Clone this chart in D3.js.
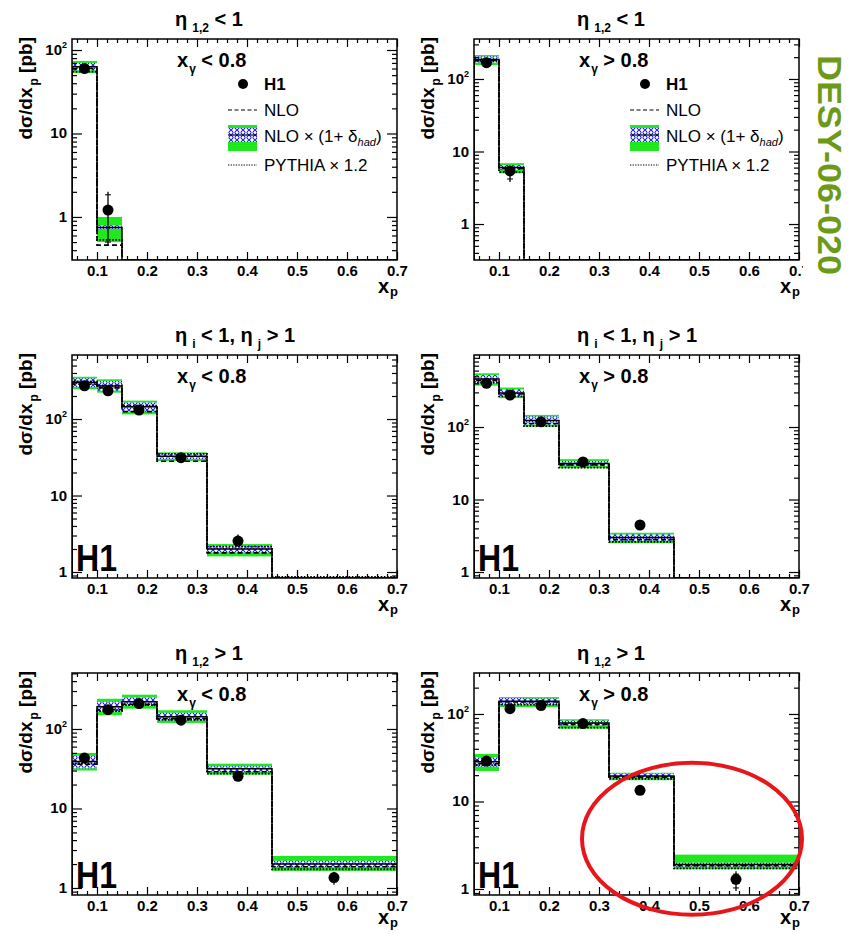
<!DOCTYPE html>
<html><head><meta charset="utf-8">
<script src="https://cdn.jsdelivr.net/npm/d3@7"></script>
<style>
body{margin:0;background:#fff}
svg{display:block}
text{font-family:"Liberation Sans",Arial,Helvetica,sans-serif}
</style>
</head><body><svg id="c" width="858" height="934"></svg>
<script>
// ---------------- DATA ----------------
const binEdges = [0.05, 0.10, 0.15, 0.22, 0.32, 0.45, 0.70];
const dataX    = [0.075, 0.122, 0.184, 0.268, 0.382, 0.574];
const xTicks   = [0.1, 0.2, 0.3, 0.4, 0.5, 0.6, 0.7];
const yDecades = [1, 10, 100];
const yRanges  = [[0.305,135.5],[0.319,356],[0.835,687],[0.827,984],[0.816,506],[0.854,294]];

const panelTitles = [
  [{t:"η"},{t:"1,2",sub:1},{t:" < 1"}],
  [{t:"η"},{t:"1,2",sub:1},{t:" < 1"}],
  [{t:"η"},{t:"i",sub:1},{t:" < 1,  η"},{t:"j",sub:1},{t:" > 1"}],
  [{t:"η"},{t:"i",sub:1},{t:" < 1,  η"},{t:"j",sub:1},{t:" > 1"}],
  [{t:"η"},{t:"1,2",sub:1},{t:" > 1"}],
  [{t:"η"},{t:"1,2",sub:1},{t:" > 1"}]
];
const xgCuts = ["< 0.8", "> 0.8", "< 0.8", "> 0.8", "< 0.8", "> 0.8"];
const showLegend = [true, true, false, false, false, false];
const showH1Logo = [false, false, true, true, true, true];
const legendLabels = ["H1", "NLO", "NLO × (1+ δ", "PYTHIA × 1.2"];

// H1 data points and total errors
const h1Values = [
  [60, 1.21, null, null, null, null],
  [168, 5.4, null, null, null, null],
  [272, 234, 131, 31.2, 2.54, null],
  [400, 276, 118, 33, 4.45, null],
  [43, 175, 209, 129, 25.4, 1.35],
  [29, 115, 125, 77.6, 13.4, 1.29]
];
const h1ErrLo = [
  [55, 0.46, null, null, null, null],
  [155, 3.8, null, null, null, null],
  [255, 220, 122, 29.5, 2.15, null],
  [375, 260, 110, 31, 3.9, null],
  [39, 163, 196, 120, 23.5, 1.1],
  [26.5, 106, 116, 72, 12.3, 0.95]
];
const h1ErrHi = [
  [66, 2.0, null, null, null, null],
  [182, 6.4, null, null, null, null],
  [290, 250, 141, 33, 3.1, null],
  [425, 292, 126, 35, 5.0, null],
  [47, 187, 222, 138, 27.5, 1.6],
  [31.5, 124, 134, 83, 14.6, 1.6]
];
// NLO x (1+delta_had): total uncertainty band (green)
const bandLo = [
  [53, 0.5, null, null, null, null],
  [156, 5.0, null, null, null, null],
  [245, 221, 115, 28.3, 1.6, null],
  [372, 250, 101, 27, 2.49, null],
  [30, 149, 180, 119, 26.6, 1.64],
  [22.3, 120, 120, 68, 17.5, 1.68]
];
const bandHi = [
  [74, 1.0, null, null, null, null],
  [214, 6.9, null, null, null, null],
  [357, 331, 174, 36.7, 2.32, null],
  [550, 350, 147, 36, 3.48, null],
  [50, 240, 270, 172, 36.6, 2.53],
  [35, 156, 156, 87, 21.3, 2.47]
];
// hadronisation uncertainty band (hatched)
const hatchLo = [
  [57, 0.72, null, null, null, null],
  [168, 5.6, null, null, null, null],
  [262, 235, 125, 30, 1.8, null],
  [400, 265, 108, 29, 2.7, null],
  [32, 165, 195, 128, 29, 1.82],
  [25, 128, 128, 74, 18.5, 1.8]
];
const hatchHi = [
  [70, 0.79, null, null, null, null],
  [205, 6.5, null, null, null, null],
  [340, 315, 165, 35.5, 2.2, null],
  [520, 330, 140, 34, 3.3, null],
  [46, 220, 250, 160, 34, 2.2],
  [32, 152, 150, 84, 20.8, 2.0]
];
const nloHad = [
  [63, 0.75, null, null, null, null],
  [185, 6.0, null, null, null, null],
  [300, 270, 145, 32.5, 2.0, null],
  [460, 295, 123, 31.5, 3.0, null],
  [39, 190, 220, 142, 31.5, 2.0],
  [28.5, 140, 140, 79, 19.6, 1.9]
];
const nlo = [
  [60, 0.46, null, null, null, null],
  [180, 5.8, null, null, null, null],
  [285, 255, 125, 28, 1.78, null],
  [440, 285, 112, 30, 2.8, null],
  [36, 175, 205, 135, 29, 1.85],
  [27, 137, 137, 76, 19, 1.85]
];
const pythia = [
  [55, 0.53, null, null, null, null],
  [178, 5.2, null, null, null, null],
  [310, 275, 150, 35, 2.15, 0.86],
  [410, 265, 103, 27.5, 2.6, null],
  [37, 168, 200, 130, 27.5, 1.72],
  [26, 128, 128, 70, 18.2, 1.72]
];

// ---------------- DRAW ----------------
const GREEN = "#1fe81f";
const svg = d3.select("#c");
const defs = svg.append("defs");
const pat = defs.append("pattern").attr("id","hatch").attr("patternUnits","userSpaceOnUse")
  .attr("width",6).attr("height",5);
pat.append("rect").attr("width",6).attr("height",5).attr("fill","#fff");
pat.append("circle").attr("cx",3).attr("cy",2.5).attr("r",2).attr("fill","none")
  .attr("stroke","#0000ff").attr("stroke-width",1);

const cols = [[72,397],[474,799]];
const rows = [[39,260],[355,578],[673,895]];
const xTitleOffset = [33, 33, 29];
const bins = d3.range(binEdges.length-1);

function rich(sel, segs, size, subSize, subShift, subDx){
  const t = sel.attr("font-size",size).attr("font-weight","bold");
  let shifted = 0;
  segs.forEach(s=>{
    const ts = t.append("tspan").text(s.t);
    if(s.sub){ ts.attr("font-size",subSize).attr("dy",subShift - shifted).attr("dx",subDx); shifted = subShift; }
    else { if(shifted){ ts.attr("dy",-shifted); } shifted = 0; }
  });
  return t;
}

function stepPath(vals, x, y, bottom){
  const pts = [[x(binEdges[0]), bottom]];
  bins.forEach(i=>{
    const yy = vals[i]==null ? bottom : y(vals[i]);
    pts.push([x(binEdges[i]), yy]); pts.push([x(binEdges[i+1]), yy]);
  });
  pts.push([x(binEdges[binEdges.length-1]), bottom]);
  return d3.line()(pts);
}

for(let p=0;p<6;p++){
  const col = p%2, row = Math.floor(p/2);
  const [L,R] = cols[col], [T,B] = rows[row];
  const x = d3.scaleLinear().domain([0.05,0.7]).range([L,R]);
  const y = d3.scaleLog().domain(yRanges[p]).range([B,T]);
  const g = svg.append("g");
  defs.append("clipPath").attr("id","clip"+p).append("rect")
    .attr("x",L).attr("y",T).attr("width",R-L).attr("height",B-T);
  const pg = g.append("g").attr("clip-path",`url(#clip${p})`);

  const valid = bins.filter(i=>bandLo[p][i]!=null);
  pg.selectAll(".band").data(valid).join("rect")
    .attr("x",i=>x(binEdges[i])).attr("width",i=>x(binEdges[i+1])-x(binEdges[i]))
    .attr("y",i=>y(bandHi[p][i])).attr("height",i=>y(bandLo[p][i])-y(bandHi[p][i]))
    .attr("fill",GREEN);
  pg.selectAll(".hatchb").data(valid).join("rect")
    .attr("x",i=>x(binEdges[i])).attr("width",i=>x(binEdges[i+1])-x(binEdges[i]))
    .attr("y",i=>y(hatchHi[p][i])).attr("height",i=>y(hatchLo[p][i])-y(hatchHi[p][i]))
    .attr("fill","url(#hatch)");

  pg.append("path").attr("d",stepPath(nloHad[p],x,y,B)).attr("fill","none")
    .attr("stroke","#000").attr("stroke-width",1.5);
  pg.append("path").attr("d",stepPath(nlo[p],x,y,B)).attr("fill","none")
    .attr("stroke","#000").attr("stroke-width",1.6).attr("stroke-dasharray","5,3");
  pg.append("path").attr("d",stepPath(pythia[p],x,y,B)).attr("fill","none")
    .attr("stroke","#000").attr("stroke-width",1.8).attr("stroke-dasharray","1.6,1.6");

  // data
  const pts = bins.filter(i=>h1Values[p][i]!=null);
  pg.selectAll(".err").data(pts).join("line")
    .attr("x1",i=>x(dataX[i])).attr("x2",i=>x(dataX[i]))
    .attr("y1",i=>y(h1ErrLo[p][i])).attr("y2",i=>y(h1ErrHi[p][i]))
    .attr("stroke","#000").attr("stroke-width",1.3);
  pg.selectAll(".capHi").data(pts).join("line")
    .attr("x1",i=>x(dataX[i])-3).attr("x2",i=>x(dataX[i])+3)
    .attr("y1",i=>y(h1ErrHi[p][i])+3).attr("y2",i=>y(h1ErrHi[p][i])+3)
    .attr("stroke","#000").attr("stroke-width",1);
  pg.selectAll(".capLo").data(pts).join("line")
    .attr("x1",i=>x(dataX[i])-3).attr("x2",i=>x(dataX[i])+3)
    .attr("y1",i=>y(h1ErrLo[p][i])-3).attr("y2",i=>y(h1ErrLo[p][i])-3)
    .attr("stroke","#000").attr("stroke-width",1);
  pg.selectAll(".pt").data(pts).join("circle")
    .attr("cx",i=>x(dataX[i])).attr("cy",i=>y(h1Values[p][i])).attr("r",5.5).attr("fill","#000");

  // frame
  g.append("rect").attr("x",L).attr("y",T).attr("width",R-L).attr("height",B-T)
    .attr("fill","none").attr("stroke","#000").attr("stroke-width",1.5);

  // x ticks
  const minorX = d3.range(3,35).filter(k=>k%5!==0).map(k=>k*0.02);
  const styleAxis = a => { a.select(".domain").remove(); a.selectAll("line").attr("stroke","#000").attr("stroke-width",1.2); };
  g.append("g").attr("transform",`translate(0,${B})`)
    .call(d3.axisBottom(x).tickValues(xTicks).tickSize(-8).tickSizeOuter(0).tickPadding(5).tickFormat(d3.format(".1f")))
    .call(styleAxis)
    .call(a=>a.selectAll("text").attr("font-size",15).attr("font-weight","bold")
      .attr("font-family","Liberation Sans, Arial, sans-serif").attr("fill","#000"));
  g.append("g").attr("transform",`translate(0,${B})`)
    .call(d3.axisBottom(x).tickValues(minorX).tickSize(-4).tickSizeOuter(0).tickFormat("")).call(styleAxis);
  g.append("g").attr("transform",`translate(0,${T})`)
    .call(d3.axisTop(x).tickValues(xTicks).tickSize(-8).tickSizeOuter(0).tickFormat("")).call(styleAxis);
  g.append("g").attr("transform",`translate(0,${T})`)
    .call(d3.axisTop(x).tickValues(minorX).tickSize(-4).tickSizeOuter(0).tickFormat("")).call(styleAxis);

  // y ticks
  const [ymin,ymax] = yRanges[p];
  const minorY = [];
  [0.1,1,10,100,1000].forEach(d=>{ for(let m=2;m<=9;m++){ const v=m*d; if(v>ymin && v<ymax) minorY.push(v);} });
  const majY = yDecades.filter(v=>v>=ymin && v<=ymax);
  g.append("g").attr("transform",`translate(${L},0)`)
    .call(d3.axisLeft(y).tickValues(majY).tickSize(-10).tickSizeOuter(0).tickFormat("")).call(styleAxis);
  g.append("g").attr("transform",`translate(${L},0)`)
    .call(d3.axisLeft(y).tickValues(minorY).tickSize(-5).tickSizeOuter(0).tickFormat("")).call(styleAxis);
  g.append("g").attr("transform",`translate(${R},0)`)
    .call(d3.axisRight(y).tickValues(majY).tickSize(-10).tickSizeOuter(0).tickFormat("")).call(styleAxis);
  g.append("g").attr("transform",`translate(${R},0)`)
    .call(d3.axisRight(y).tickValues(minorY).tickSize(-5).tickSizeOuter(0).tickFormat("")).call(styleAxis);
  majY.forEach(v=>{
    const t = g.append("text").attr("x",L-5).attr("y",y(v)+5).attr("text-anchor","end")
      .attr("font-size",15).attr("font-weight","bold");
    if(v===100){ t.append("tspan").text("10"); t.append("tspan").text("2").attr("font-size",9).attr("dy",-7); }
    else t.text(String(v));
  });

  // axis titles
  rich(g.append("text").attr("text-anchor","end")
    .attr("transform",`translate(${L-40},${T-2}) rotate(-90)`),
    [{t:"dσ/dx"},{t:"p",sub:1},{t:" [pb]"}], 19, 12, 6, 2);
  rich(g.append("text").attr("x",R+1).attr("y",B+xTitleOffset[row]).attr("text-anchor","end"),
    [{t:"x"},{t:"p",sub:1}], 20, 13, 3, 1);

  // panel title
  rich(g.append("text").attr("x",L+103).attr("y",T-13), panelTitles[p], 20, 12, 6, 5);
  // x_gamma cut
  rich(g.append("text").attr("x",L+105).attr("y",T+28), [{t:"x"},{t:"γ",sub:1},{t:" "+xgCuts[p]}], 20, 12, 6, 1);

  if(showH1Logo[p]){
    g.append("text").attr("x",L+4).attr("y",B-7).attr("font-size",36).attr("font-weight","bold")
      .attr("textLength",41).attr("lengthAdjust","spacingAndGlyphs").text("H1");
  }

  if(showLegend[p]){
    const lx = L+156, tx = L+192;
    g.append("circle").attr("cx",L+171).attr("cy",T+45).attr("r",5).attr("fill","#000");
    g.append("text").attr("x",tx).attr("y",T+51).attr("font-size",17).attr("font-weight","bold").text(legendLabels[0]);
    g.append("line").attr("x1",lx).attr("x2",lx+29).attr("y1",T+71).attr("y2",T+71)
      .attr("stroke","#000").attr("stroke-width",1.2).attr("stroke-dasharray","4,2.5");
    g.append("text").attr("x",tx).attr("y",T+77).attr("font-size",17).text(legendLabels[1]);
    g.append("rect").attr("x",lx).attr("y",T+86).attr("width",29).attr("height",26).attr("fill",GREEN);
    g.append("rect").attr("x",lx).attr("y",T+89).attr("width",29).attr("height",14).attr("fill","url(#hatch)");
    g.append("line").attr("x1",lx).attr("x2",lx+29).attr("y1",T+96).attr("y2",T+96)
      .attr("stroke","#000").attr("stroke-width",1.2);
    const t3 = g.append("text").attr("x",tx).attr("y",T+103).attr("font-size",17);
    t3.append("tspan").text(legendLabels[2]);
    t3.append("tspan").text("had").attr("font-size",11).attr("font-style","italic").attr("dy",4);
    t3.append("tspan").text(")").attr("dy",-4);
    g.append("line").attr("x1",lx).attr("x2",lx+29).attr("y1",T+126).attr("y2",T+126)
      .attr("stroke","#000").attr("stroke-width",1.2).attr("stroke-dasharray","1.3,1.3");
    g.append("text").attr("x",tx).attr("y",T+132).attr("font-size",17).text(legendLabels[3]);
  }

  if(p===5){
    g.append("ellipse").attr("cx",x(0.486)).attr("cy",y(3.75)).attr("rx",110).attr("ry",76)
      .attr("fill","none").attr("stroke","#e8161b").attr("stroke-width",4);
  }
}

// DESY report number
svg.append("rect").attr("x",803).attr("y",30).attr("width",55).attr("height",270).attr("fill","#fff");
svg.append("text").attr("transform","translate(818,55) rotate(90)")
  .attr("font-size",34).attr("font-weight","bold").attr("fill","#6c9a18")
  .attr("textLength",220).attr("lengthAdjust","spacingAndGlyphs").text("DESY-06-020");
</script>
</body></html>
